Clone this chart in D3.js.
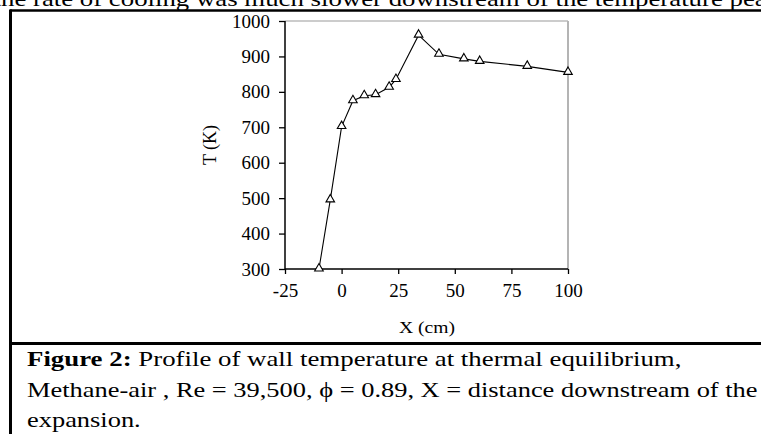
<!DOCTYPE html>
<html><head><meta charset="utf-8">
<script src="https://cdn.jsdelivr.net/npm/d3@7"></script>
<style>
html,body{margin:0;padding:0;background:#fff;overflow:hidden}
svg{display:block}
text{font-family:"Liberation Serif","Times New Roman",serif;fill:#000}
</style></head>
<body>
<script>
// ---- data ----
const xValues = [-10, -5, 0, 5, 10, 15, 21, 24, 34, 43, 54, 61, 82, 100];
const tValues = [300, 495, 702, 775, 789, 792, 813, 835, 960, 906, 893, 886, 872, 855];
const xTicks = [-25, 0, 25, 50, 75, 100];
const yTicks = [300, 400, 500, 600, 700, 800, 900, 1000];
const xLabel = "X (cm)";
const yLabel = "T (K)";
const topText = "the rate of cooling was much slower downstream of the temperature peak";
const captionBold = "Figure 2:";
const captionLine1 = " Profile of wall temperature at thermal equilibrium,";
const captionLine2 = "Methane-air , Re = 39,500, \u03d5 = 0.89, X = distance downstream of the";
const captionLine3 = "expansion.";

const W = 761, H = 434;
const svg = d3.select("body").append("svg").attr("width", W).attr("height", H);

function fitX(sel, x, y, target) {
  const w = sel.node().getComputedTextLength();
  const s = target / w;
  sel.attr("x", 0).attr("y", 0).attr("transform", `translate(${x},${y}) scale(${s},1)`);
  return s;
}

// top clipped text (clipped in the reference too): "rate" starts near x=33, "peak"'s "a" near x=755
const tt = svg.append("text").style("font-size", "22px").text(topText);
{
  const n = tt.node();
  const a = n.getSubStringLength(0, 4);
  const iA = topText.lastIndexOf("peak") + 2;
  const b = n.getSubStringLength(0, iA);
  const s = (755 - 33) / (b - a);
  const x0 = 33 - s * a;
  tt.attr("transform", `translate(${x0},6) scale(${s},1)`);
}

// outer box
svg.append("line").attr("x1", 10).attr("x2", W + 5).attr("y1", 10.5).attr("y2", 10.5)
  .attr("stroke", "#000").attr("stroke-width", 2.5);
svg.append("line").attr("x1", 10.5).attr("x2", 10.5).attr("y1", 9.5).attr("y2", H + 5)
  .attr("stroke", "#000").attr("stroke-width", 3);
svg.append("line").attr("x1", 10).attr("x2", W + 5).attr("y1", 343.5).attr("y2", 343.5)
  .attr("stroke", "#000").attr("stroke-width", 3);

// plot
const L = 285, R = 568, T = 21, B = 269;
const x = d3.scaleLinear().domain([-25, 100]).range([L, R]);
const y = d3.scaleLinear().domain([300, 1000]).range([B, T]);

svg.append("line").attr("x1", L).attr("x2", R).attr("y1", T).attr("y2", T)
  .attr("stroke", "#9a9a9a").attr("stroke-width", 1.2);
svg.append("line").attr("x1", R).attr("x2", R).attr("y1", T).attr("y2", B)
  .attr("stroke", "#b4b4b4").attr("stroke-width", 2);

const fmt = d => String(d);
const yAxis = svg.append("g").attr("transform", `translate(${L},0)`)
  .call(d3.axisLeft(y).tickValues(yTicks).tickSize(6).tickPadding(9).tickFormat(fmt));
const xAxis = svg.append("g").attr("transform", `translate(0,${B})`)
  .call(d3.axisBottom(x).tickValues(xTicks).tickSize(5).tickPadding(10).tickFormat(fmt));
[yAxis, xAxis].forEach(g => {
  g.select(".domain").attr("stroke", "#000").attr("stroke-width", 1.5);
  g.selectAll(".tick line").attr("stroke", "#000").attr("stroke-width", 1.3);
  g.selectAll(".tick text").style("font-size", "19px").style("font-family", '"Liberation Serif",serif').attr("fill", "#000");
});
yAxis.select(".domain").attr("d", `M-0,${B}V${T}`);
xAxis.select(".domain").attr("d", `M${L},0H${R}`);

const pts = xValues.map((v, i) => [v, tValues[i]]);
svg.append("path").datum(pts)
  .attr("d", d3.line().x(d => x(d[0])).y(d => y(d[1])))
  .attr("fill", "none").attr("stroke", "#000").attr("stroke-width", 1.1);

const tri = d3.symbol().type(d3.symbolTriangle).size(32);
svg.selectAll("path.mk").data(pts).join("path").attr("class", "mk")
  .attr("d", tri)
  .attr("transform", d => `translate(${x(d[0])},${y(d[1]) - 0.5})`)
  .attr("fill", "#fff").attr("stroke", "#000").attr("stroke-width", 1.1);

const xl = svg.append("text").style("font-size", "17px").text(xLabel);
fitX(xl, 399, 333, 56);
svg.append("text").style("font-size", "18px").attr("text-anchor", "middle")
  .attr("transform", `translate(216,145) rotate(-90)`).text(yLabel);

const c1 = svg.append("text").style("font-size", "20px");
c1.append("tspan").style("font-weight", "bold").text(captionBold);
c1.append("tspan").text(captionLine1);
fitX(c1, 27, 366, 655);
const c2 = svg.append("text").style("font-size", "20px").text(captionLine2);
const s2 = fitX(c2, 27, 397, 731);
const c3 = svg.append("text").style("font-size", "20px").text(captionLine3);
c3.attr("transform", `translate(27,427) scale(${s2},1)`);
</script>
</body></html>
